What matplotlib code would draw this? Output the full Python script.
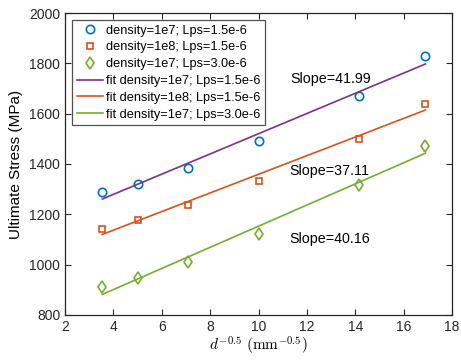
import numpy as np
import matplotlib
matplotlib.use('Agg')
import matplotlib.pyplot as plt

plt.rcParams['font.family'] = ['Liberation Sans', 'DejaVu Sans']
plt.rcParams['mathtext.fontset'] = 'cm'

# d^-0.5 values (mm^-0.5)
x = [3.54, 5.0, 7.07, 10.0, 14.14, 16.9]
s_1e7_15 = [1290, 1322, 1385, 1490, 1672, 1828]
s_1e8_15 = [1143, 1177, 1237, 1333, 1500, 1640]
s_1e7_30 = [910, 948, 1010, 1120, 1318, 1470]

labels = ['density=1e7; Lps=1.5e-6', 'density=1e8; Lps=1.5e-6', 'density=1e7; Lps=3.0e-6']
slopes = ['Slope=41.99', 'Slope=37.11', 'Slope=40.16']

c_blue = '#0072BD'
c_orange = '#D95319'
c_green = '#77AC30'
c_purple = '#7E2F8E'

fig = plt.figure(figsize=(4.61, 3.62), dpi=100)
ax = fig.add_axes([0.141, 0.130, 0.8395, 0.834])

ax.plot(x, s_1e7_15, 'o', mfc='none', mec=c_blue, mew=1.2, ms=6, label=labels[0])
ax.plot(x, s_1e8_15, 's', mfc='none', mec=c_orange, mew=1.2, ms=5, label=labels[1])
ax.plot(x, s_1e7_30, 'd', mfc='none', mec=c_green, mew=1.2, ms=6.5, label=labels[2])

xa = np.array(x)
for ys, col, lab in [(s_1e7_15, c_purple, labels[0]),
                     (s_1e8_15, c_orange, labels[1]),
                     (s_1e7_30, c_green, labels[2])]:
    p = np.polyfit(xa, ys, 1)
    ax.plot(xa[[0, -1]], np.polyval(p, xa[[0, -1]]), '-', color=col, lw=1.2, label='fit ' + lab)

ax.text(11.3, 1738, slopes[0], fontsize=10.3, va='center')
ax.text(11.27, 1372, slopes[1], fontsize=10.3, va='center')
ax.text(11.27, 1102, slopes[2], fontsize=10.3, va='center')

ax.set_xlim(2, 18)
ax.set_ylim(800, 2000)
ax.set_xticks(range(2, 19, 2))
ax.set_yticks(range(800, 2001, 200))
ax.tick_params(direction='in', top=True, right=True, labelsize=10, length=4, colors='#262626')
for sp in ax.spines.values():
    sp.set_color('#262626')
    sp.set_linewidth(0.9)

ax.set_xlabel(r'$d^{-0.5}\ (\mathrm{mm}^{-0.5})$', fontsize=11, labelpad=1)
ax.set_ylabel('Ultimate Stress (MPa)', fontsize=11, labelpad=4)

leg = ax.legend(loc='upper left', fontsize=9.2, frameon=True, fancybox=False,
                edgecolor='#262626', handlelength=2.1, borderpad=0.35, labelspacing=0.38,
                handletextpad=0.2, borderaxespad=0.55)
leg.get_frame().set_linewidth(0.9)

fig.savefig('out.png', dpi=100)
